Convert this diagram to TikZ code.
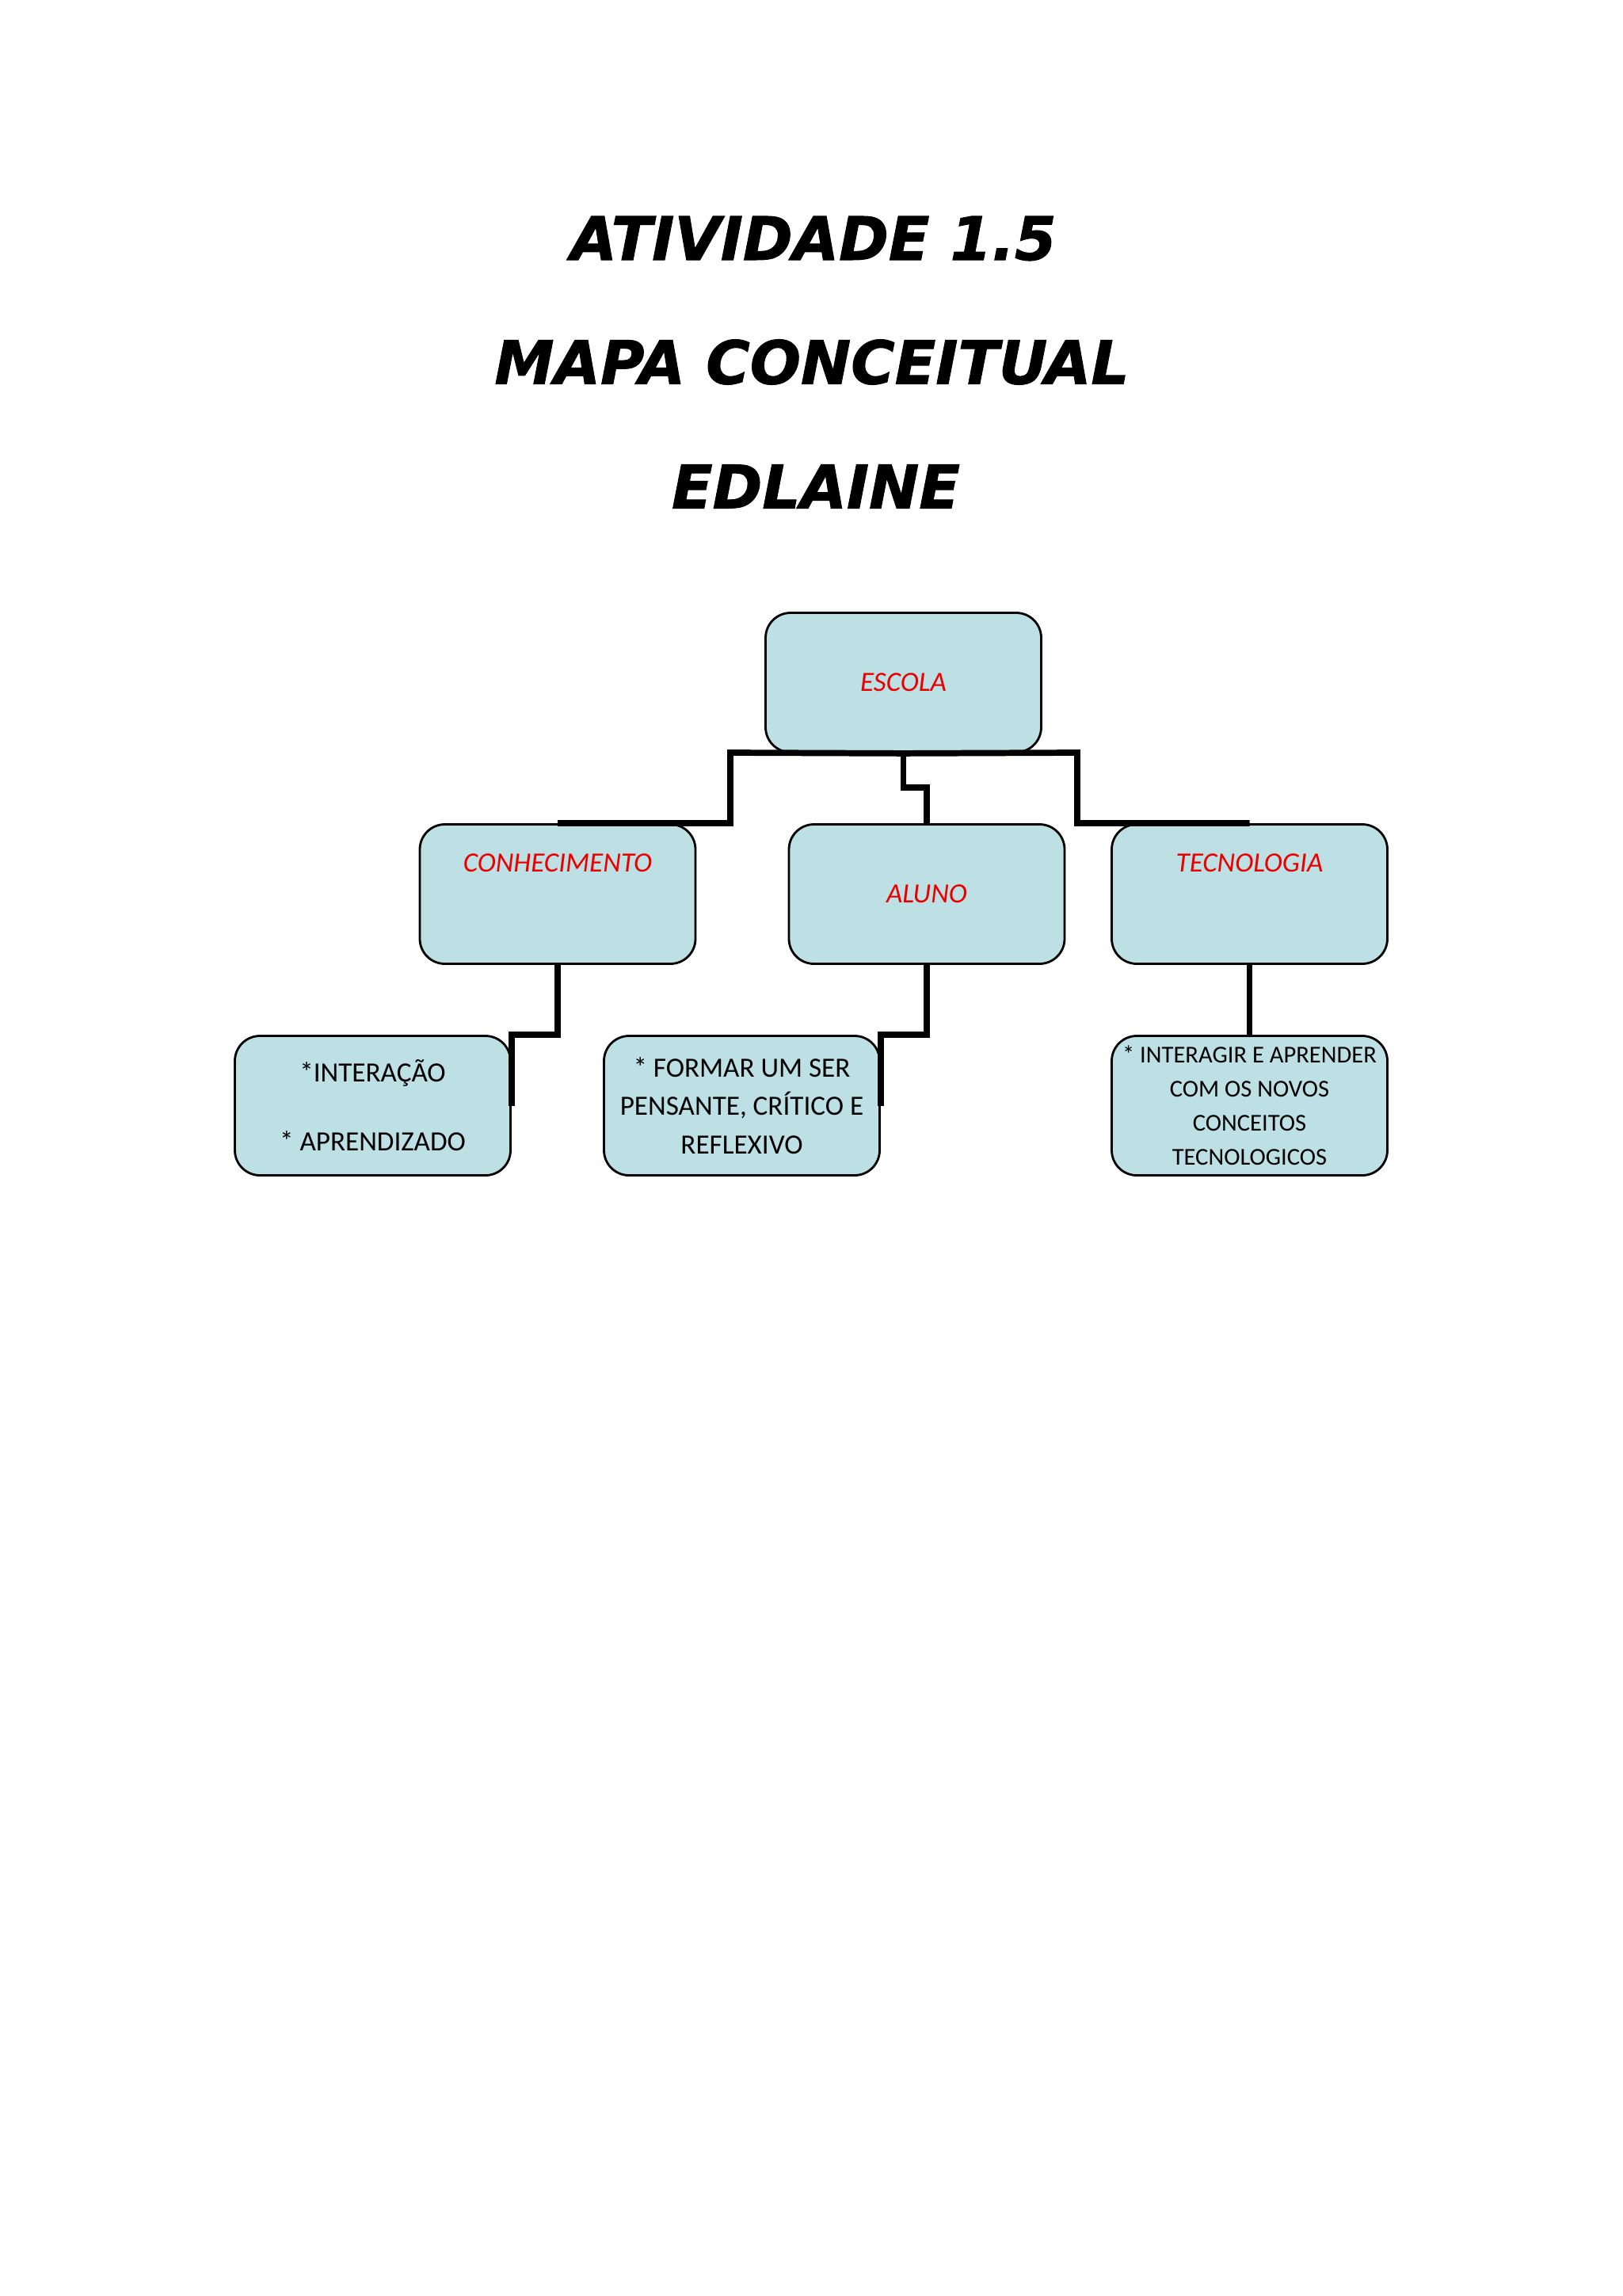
\documentclass[tikz,border=0pt]{standalone}
\usepackage{fontspec}
\setmainfont{Carlito}
\newfontfamily\headfont[BoldItalicFeatures={FakeBold=1.3}]{DejaVu Sans}
\usetikzlibrary{positioning}
\definecolor{boxaqua}{RGB}{188,224,228}
\definecolor{labelred}{RGB}{235,0,0}

\begin{document}
\begin{tikzpicture}[
    heading/.style={font=\headfont\bfseries\itshape\fontsize{21.5}{26}\selectfont, text=black},
    box/.style={draw=black, fill=boxaqua, rounded corners=9pt, line width=0.8pt, minimum width=3.48cm, minimum height=1.76cm, align=center, inner sep=2pt},
    redlabel/.style={font=\itshape\fontsize{10}{12}\selectfont, text=labelred},
    bodytext/.style={font=\fontsize{10}{13.7}\selectfont, text=black},
    link/.style={draw=black, line width=2.2pt}
]

% Page frame
\useasboundingbox (0,0) rectangle (20.48,-28.98);

% Title Banner
\node[heading] (title1) at (10.27,-3.01) {ATIVIDADE 1.5};
\node[heading] (title2) at (10.25,-4.57) {MAPA CONCEITUAL};
\node[heading] (title3) at (10.30,-6.14) {EDLAINE};

% Concept map: first and second level
\node[box, redlabel] (escola) at (11.405,-8.615) {ESCOLA};
\node[box] (conhec) at (7.04,-11.285) {};
\node[redlabel] (conhec label) at ([yshift=-5mm]conhec.north) {CONHECIMENTO};
\node[box, redlabel] (aluno) at (11.70,-11.285) {ALUNO};
\node[box] (tecno) at (15.775,-11.285) {};
\node[redlabel] (tecno label) at ([yshift=-5mm]tecno.north) {TECNOLOGIA};

% Third level
\node[box, bodytext] (inter) at (4.705,-13.955) {*INTERAÇÃO\\[11pt]* APRENDIZADO};
\node[box, bodytext] (formar) at (9.365,-13.955) {* FORMAR UM SER\\PENSANTE, CRÍTICO E\\REFLEXIVO};
\node[box, bodytext, font=\fontsize{8.7}{12.2}\selectfont, inner sep=1pt] (interagir) at (15.775,-13.955) {* INTERAGIR E APRENDER\\COM OS NOVOS\\CONCEITOS\\TECNOLOGICOS};

% Elbow points of the upper connectors
\coordinate (bar west) at (9.22,-9.50);
\coordinate (bar east) at (13.60,-9.50);
\coordinate (aluno step) at (11.405,-9.94);

% Connectors
\draw[link] (conhec.north) -| (bar west) -- (escola.south);
\draw[link] (tecno.north) -| (bar east) -- (escola.south);
\draw[link] (escola.south) -- (aluno step) -| (aluno.north);
\draw[link] (conhec.south) |- (inter.north east) -- (inter.east);
\draw[link] (aluno.south) |- (formar.north east) -- (formar.east);
\draw[link] (tecno.south) -- (interagir.north);

\end{tikzpicture}
\end{document}
